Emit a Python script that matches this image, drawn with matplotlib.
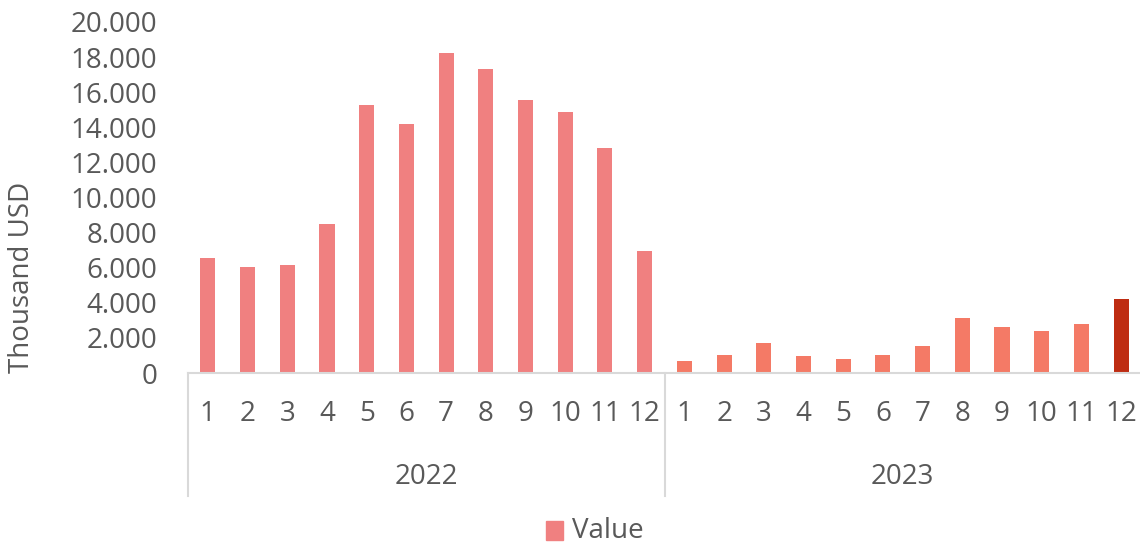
import matplotlib.pyplot as plt
import numpy as np
from matplotlib.ticker import FuncFormatter

months = [str(m) for m in range(1, 13)]
years = ["2022", "2023"]
values_2022 = [6530, 6040, 6140, 8470, 15250, 14170, 18230, 17320, 15540, 14850, 12800, 6970]
values_2023 = [700, 1030, 1730, 970, 800, 1030, 1540, 3130, 2620, 2390, 2810, 4220]

c2022 = "#F08080"
c2023 = "#F47A66"
c_last = "#BE2C12"
grey = "#595959"
line_c = "#D9D9D9"

plt.rcParams['font.family'] = ['Open Sans', 'DejaVu Sans']

values = values_2022 + values_2023
colors = [c2022] * 12 + [c2023] * 11 + [c_last]
x = np.arange(len(values))

fig = plt.figure(figsize=(11.4, 5.44), dpi=100)
ax = fig.add_axes([188/1140, 1-373/544, (1141-188)/1140, (373-22)/544])

ax.bar(x, values, width=0.38, color=colors, zorder=2)
ax.set_xlim(-0.5, len(values) - 0.5)
ax.set_ylim(0, 20000)
ax.set_yticks(np.arange(0, 20001, 2000))
ax.yaxis.set_major_formatter(FuncFormatter(lambda v, p: f"{int(v):,}".replace(",", ".")))
ax.tick_params(axis='y', length=0, pad=22, labelsize=20, labelcolor=grey)
ax.set_xticks([])
for s in ['top', 'right', 'left']:
    ax.spines[s].set_visible(False)
ax.spines['bottom'].set_color(line_c)
ax.spines['bottom'].set_linewidth(1.5)

ax.set_ylabel("Thousand USD", fontsize=20, color=grey)
ax.yaxis.set_label_coords((36 - 188) / 953, (373 - 277) / 351)

# month labels and year groups
for i, v in enumerate(values):
    ax.annotate(months[i % 12], xy=(i, 0), xycoords='data', xytext=(0, -41),
                textcoords='offset pixels', ha='center', va='center', fontsize=20, color=grey)
for j, yr in enumerate(years):
    ax.annotate(yr, xy=(j * 12 + 5.5, 0), xycoords='data', xytext=(0, -104),
                textcoords='offset pixels', ha='center', va='center', fontsize=20, color=grey)
for b in [-0.5, 11.5, 23.5]:
    ax.plot([b, b], [0, -123 / 351 * 20000], color=line_c, lw=1.5, clip_on=False)

# legend
fig.patches.append(plt.Rectangle((546/1140, 1-540/544), 17/1140, 19/544,
                                 transform=fig.transFigure, color=c2022))
fig.text(572/1140, 1-531/544, "Value", fontsize=20, color=grey, va='center', ha='left')

fig.savefig("out.png", dpi=100)
